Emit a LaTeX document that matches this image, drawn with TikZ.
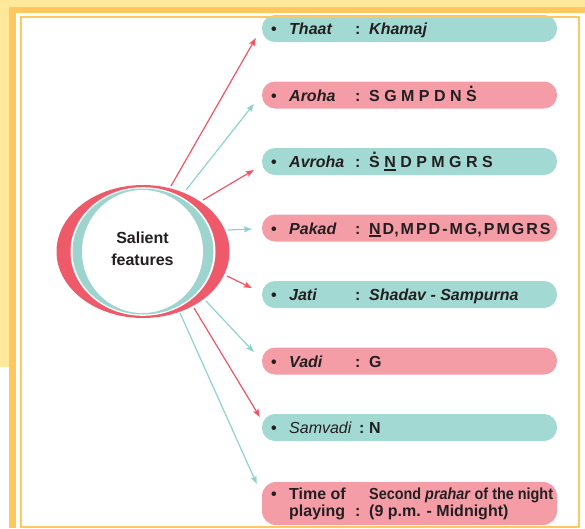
\documentclass[tikz,border=0pt]{standalone}
\usepackage{fontspec}
\setmainfont{Liberation Sans}
\usetikzlibrary{arrows.meta}
\definecolor{yel}{HTML}{FFE89A}
\definecolor{org}{HTML}{FFC75F}
\definecolor{pteal}{HTML}{A3D9D3}
\definecolor{ppink}{HTML}{F59DA7}
\definecolor{cred}{HTML}{EE5A6A}
\definecolor{cteal}{HTML}{9DD5CE}
\definecolor{ared}{HTML}{EE5565}
\definecolor{ateal}{HTML}{8ED3CB}
\definecolor{ink}{HTML}{231F20}
\newcommand\dS{\leavevmode\setbox0\hbox{S}\rlap{\hbox to\wd0{\hss\raisebox{0.8em}{.}\hss}}S}
\newcommand\uN{\leavevmode\setbox0\hbox{N}\rlap{\rule[-3pt]{\wd0}{1.6pt}}N}
\newcommand\rowtxt[2]{\makebox[18pt][l]{\textbullet}\makebox[66pt][l]{#1}\makebox[14pt][l]{:}#2}
\newcommand\ks{\kern2pt}
\begin{document}
\begin{tikzpicture}[x=1pt,y=-1pt,
  pill/.style={rectangle, rounded corners=13pt, minimum width=295pt, minimum height=27pt, inner sep=0pt},
  txt/.style={inner sep=0pt, anchor=base west, font=\fontsize{16}{17}\selectfont\bfseries, text=ink},
  arr/.style={line width=1.2pt, -{Stealth[length=8pt,width=6pt,inset=1.5pt]}},
  frameline/.style={draw=org, line width=2pt}]
\useasboundingbox (0,0) rectangle (585,528);
% background
\fill[yel] (0,0) rectangle (585,6.5);
\fill[yel] (0,0) rectangle (9,367);
\fill[org] (9,6.5) rectangle (585,12.5);
\fill[org] (9,6.5) rectangle (15.5,528);
% pills
\node[pill, fill=pteal] (p1) at (409.5,28.5) {};
\node[pill, fill=ppink] (p2) at (409.5,95) {};
\node[pill, fill=pteal] (p3) at (409.5,161.5) {};
\node[pill, fill=ppink] (p4) at (409.5,228) {};
\node[pill, fill=pteal] (p5) at (409.5,294.5) {};
\node[pill, fill=ppink] (p6) at (409.5,361) {};
\node[pill, fill=pteal] (p7) at (409.5,427.5) {};
\node[pill, fill=ppink, minimum height=43pt, rounded corners=14pt] (p8) at (409.5,503.5) {};
\draw[frameline] (20.5,16.5) rectangle (579,526.5);
% texts
\node[txt] (t1) at (271,34.5) {\rowtxt{\textit{Thaat}}{\textit{Khamaj}}};
\node[txt] (t2) at (271,101) {\rowtxt{\textit{Aroha}}{S G M P D N \dS}};
\node[txt] (t3) at (271,167.5) {\rowtxt{\textit{Avroha}}{\dS\ \uN\ D P M G R S}};
\node[txt] (t4) at (271,234) {\rowtxt{\textit{Pakad}}{\uN\ks D,\ks M\ks P\ks D\ks -\ks M\ks G,\ks P\ks M\ks G\ks R\ks S}};
\node[txt] (t5) at (271,300.5) {\rowtxt{\textit{Jati}}{\textit{Shadav - Sampurna}}};
\node[txt] (t6) at (271,367) {\rowtxt{\textit{Vadi}}{G}};
\node[txt] (t7) at (271,433.5) {\makebox[18pt][l]{\textbullet}\makebox[70pt][l]{\mdseries\textit{Samvadi}}\makebox[10pt][l]{:}N};
\node[txt] (t8a) at (271,499.5) {\makebox[18pt][l]{\textbullet}\makebox[80pt][l]{Time of}\scalebox{0.9}[1]{Second \textit{prahar} of the night}};
\node[txt] (t8b) at (289,516.5) {\makebox[66pt][l]{playing}\makebox[14pt][l]{:}(9 p.m. - Midnight)};
% central circle
\fill[cred] (143,251.5) ellipse [x radius=86.5pt, y radius=66.5pt];
\fill[white] (143,251.5) ellipse [x radius=72.5pt, y radius=64.3pt];
\fill[cteal] (143,251.5) ellipse [x radius=70.5pt, y radius=63pt];
\fill[white] (142.5,251.5) ellipse [x radius=60.5pt, y radius=61.5pt];
\node[inner sep=0pt, align=center, font=\fontsize{16}{22}\selectfont\bfseries, text=ink] (sf) at (142.5,249) {Salient\\features};
% arrow starts
\coordinate (s1) at (171,186);
\coordinate (s2) at (186,190);
\coordinate (s3) at (203,200);
\coordinate (s4) at (228,230);
\coordinate (s5) at (227,276);
\coordinate (s6) at (206,301);
\coordinate (s7) at (194,308);
\coordinate (s8) at (180,313);
\draw[arr, ared]  (s1) -- ([shift={(-6,9.5)}]p1.west);
\draw[arr, ateal] (s2) -- ([shift={(-8,9)}]p2.west);
\draw[arr, ared]  (s3) -- ([shift={(-8,8.5)}]p3.west);
\draw[arr, ateal] (s4) -- ([shift={(-10,1)}]p4.west);
\draw[arr, ared]  (s5) -- ([shift={(-10,-6.5)}]p5.west);
\draw[arr, ateal] (s6) -- ([shift={(-8,-9)}]p6.west);
\draw[arr, ared]  (s7) -- ([shift={(-2,-10.5)}]p7.west);
\draw[arr, ateal] (s8) -- ([shift={(-5,-19.5)}]p8.west);
\end{tikzpicture}
\end{document}
